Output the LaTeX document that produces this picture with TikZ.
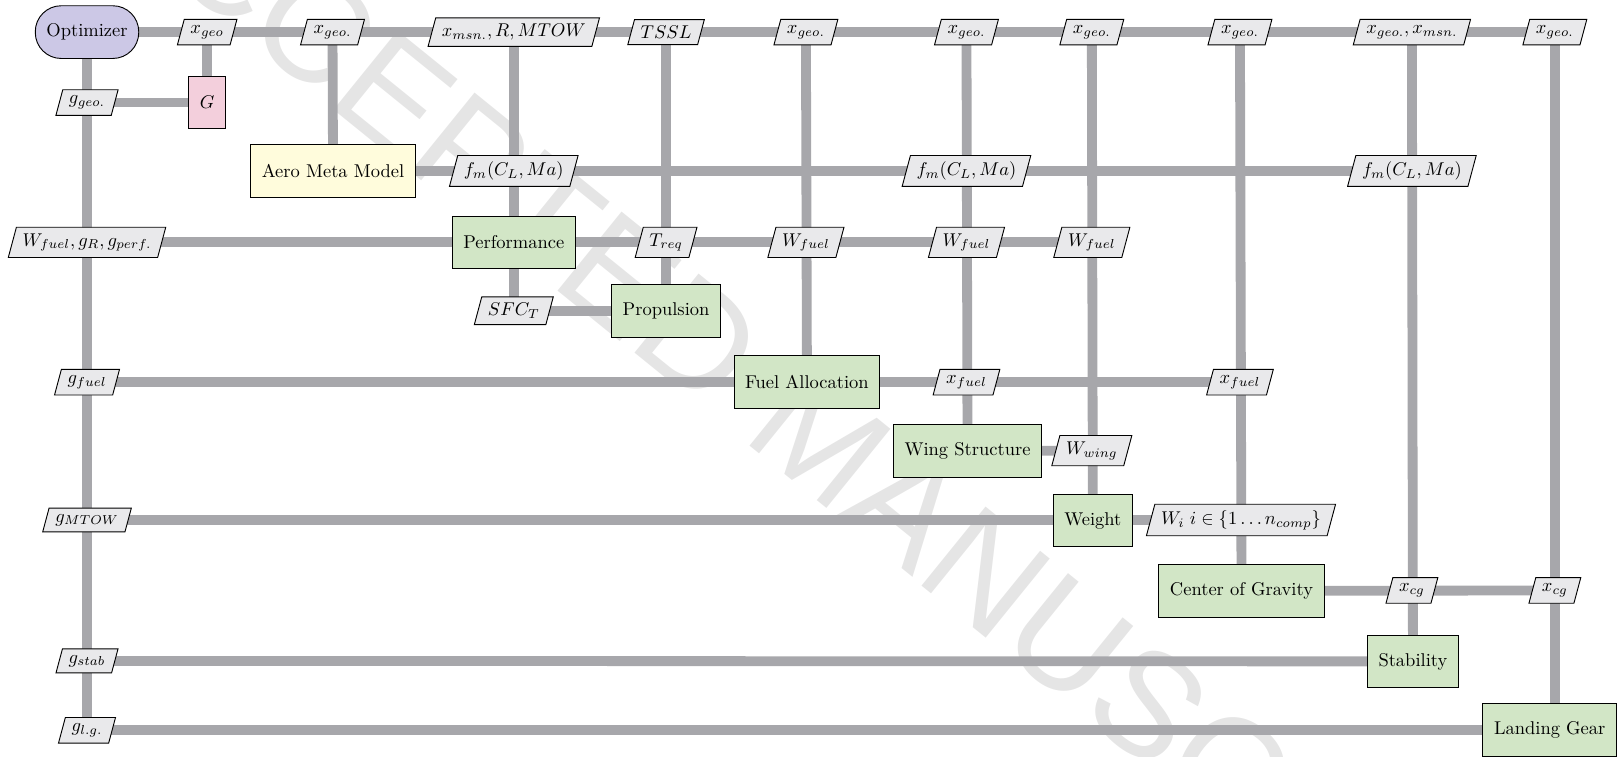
\documentclass[tikz,border=0pt]{standalone}
\usepackage{fontspec}
\newfontfamily\wmfont{Liberation Sans}
\usetikzlibrary{shapes.geometric}
\definecolor{lineg}{RGB}{167,167,171}
\definecolor{datag}{RGB}{233,233,235}
\definecolor{optc}{RGB}{204,200,230}
\definecolor{funcc}{RGB}{243,207,220}
\definecolor{metac}{RGB}{255,252,220}
\definecolor{anac}{RGB}{210,230,198}
\definecolor{wmc}{RGB}{229,229,229}
\pgfdeclarelayer{wmlayer}
\pgfdeclarelayer{linelayer}
\pgfsetlayers{wmlayer,linelayer,main}
\tikzset{
  dataio/.style={trapezium, trapezium left angle=75, trapezium right angle=105,
    draw=black, fill=datag, line width=0.5pt},
  compbox/.style={rectangle, draw=black, line width=0.5pt, minimum height=28.5pt,
    inner xsep=6pt, fill=anac},
  optbox/.style={compbox, fill=optc, rounded corners=14pt},
  funcbox/.style={compbox, fill=funcc},
  metabox/.style={compbox, fill=metac},
  link/.style={draw=lineg, line width=5.3pt},
  wmark/.style={text=wmc, font=\wmfont\fontsize{80}{90}\selectfont, rotate=-39}
}
\begin{document}
\begin{tikzpicture}[x=0.56pt, y=-0.56pt]
\useasboundingbox (0,0) rectangle (1561,730);

% components
\node[optbox]  (opt)  at (84,31)    {Optimizer};
\node[funcbox] (G)    at (200,99)   {$G$};
\node[metabox] (aero) at (321.5,165){Aero Meta Model};
\node[compbox] (perf) at (496,234)  {Performance};
\node[compbox] (prop) at (643,300)  {Propulsion};
\node[compbox] (fuel) at (779,369)  {Fuel Allocation};
\node[compbox] (wing) at (934,435.5){Wing Structure};
\node[compbox] (wgt)  at (1055,502.5){Weight};
\node[compbox] (cog)  at (1198.5,570.5){Center of Gravity};
\node[compbox] (stab) at (1364,638.5){Stability};
\node[compbox, anchor=east] (lg) at (1561,705){Landing Gear};

% data row 0
\node[dataio] (d01) at (200,31)  {$x_{geo}$};
\node[dataio] (d02) at (321,31)  {$x_{geo.}$};
\node[dataio] (d03) at (496,31)  {$x_{msn.}, R, MTOW$};
\node[dataio] (d04) at (643,31)  {$TSSL$};
\node[dataio] (d05) at (778,31)  {$x_{geo.}$};
\node[dataio] (d06) at (933,31)  {$x_{geo.}$};
\node[dataio] (d07) at (1054,31) {$x_{geo.}$};
\node[dataio] (d08) at (1197,31) {$x_{geo.}$};
\node[dataio] (d09) at (1363,31) {$x_{geo.}, x_{msn.}$};
\node[dataio] (d10) at (1501,31) {$x_{geo.}$};
% other data
\node[dataio] (ggeo) at (84,99)   {$g_{geo.}$};
\node[dataio] (fm1)  at (496,165) {$f_m(C_L, Ma)$};
\node[dataio] (fm2)  at (933,165) {$f_m(C_L, Ma)$};
\node[dataio] (fm3)  at (1363,165){$f_m(C_L, Ma)$};
\node[dataio] (wfg)  at (84,234)  {$W_{fuel}, g_R, g_{perf.}$};
\node[dataio] (treq) at (643,234) {$T_{req}$};
\node[dataio] (wf1)  at (778,234) {$W_{fuel}$};
\node[dataio] (wf2)  at (933,234) {$W_{fuel}$};
\node[dataio] (wf3)  at (1054,234){$W_{fuel}$};
\node[dataio] (sfc)  at (496,300) {$SFC_T$};
\node[dataio] (gfuel) at (84,369) {$g_{fuel}$};
\node[dataio] (xf1)  at (933,369) {$x_{fuel}$};
\node[dataio] (xf2)  at (1197,369){$x_{fuel}$};
\node[dataio] (wwing) at (1054,435){$W_{wing}$};
\node[dataio] (gmtow) at (84,502) {$g_{MTOW}$};
\node[dataio] (wi)   at (1198,502){$W_i\; i \in \{1 \ldots n_{comp}\}$};
\node[dataio] (xcg1) at (1363,570){$x_{cg}$};
\node[dataio] (xcg2) at (1501,570){$x_{cg}$};
\node[dataio] (gstab) at (84,638) {$g_{stab}$};
\node[dataio] (glg)  at (84,705)  {$g_{l.g.}$};

\begin{pgfonlayer}{wmlayer}
\node[wmark] (wm) at (795,425) {ACCEPTED MANUSCRIPT};
\end{pgfonlayer}

\begin{pgfonlayer}{linelayer}
% horizontal
\draw[link] (opt.center) -- (d10.center);
\draw[link] (ggeo.center) -- (G.center);
\draw[link] (aero.center) -- (fm3.center);
\draw[link] (wfg.center) -- (wf3.center);
\draw[link] (sfc.center) -- (prop.center);
\draw[link] (gfuel.center) -- (xf2.center);
\draw[link] (wing.center) -- (wwing.center);
\draw[link] (gmtow.center) -- (wi.center);
\draw[link] (cog.center) -- (xcg2.center);
\draw[link] (gstab.center) -- (stab.center);
\draw[link] (glg.center) -- (lg.center);
% vertical
\draw[link] (opt.center) -- (glg.center);
\draw[link] (d01.center) -- (G.center);
\draw[link] (d02.center) -- (aero.center);
\draw[link] (d03.center) -- (sfc.center);
\draw[link] (d04.center) -- (prop.center);
\draw[link] (d05.center) -- (fuel.center);
\draw[link] (d06.center) -- (wing.center);
\draw[link] (d07.center) -- (wgt.center);
\draw[link] (d08.center) -- (cog.center);
\draw[link] (d09.center) -- (stab.center);
\draw[link] (d10.center) -- (d10.center |- lg.center);
\end{pgfonlayer}
\end{tikzpicture}
\end{document}
